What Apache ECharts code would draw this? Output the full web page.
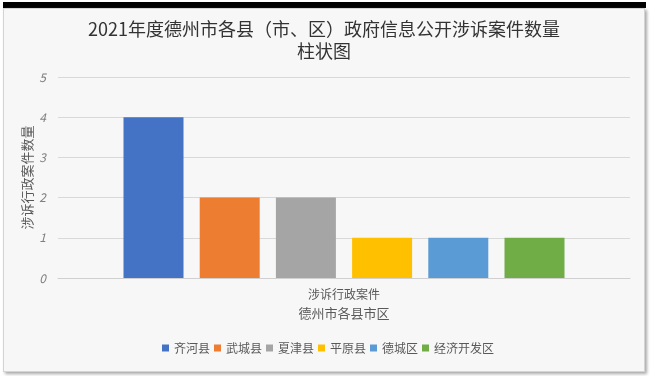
<!DOCTYPE html>
<html>
<head>
<meta charset="utf-8">
<script src="https://cdn.jsdelivr.net/npm/echarts@6/dist/echarts.min.js"></script>
<style>
  html, body { margin: 0; padding: 0; background: #fff; }
  #topbar { position: absolute; left: 3px; top: 2px; width: 643px; height: 6px; background: #000; }
  #card { position: absolute; left: 3px; top: 8px; width: 640px; height: 362px; background: #f8f7f8;
          border: 1px solid #d4d4d4; box-shadow: 2px 2px 3px #a8a8a8; }
  #main { position: absolute; left: 0; top: 0; width: 656px; height: 376px; }
</style>
</head>
<body>
<div id="topbar"></div>
<div id="card"></div>
<div id="main"></div>
<script>
const chartDom = document.getElementById('main');
const myChart = echarts.init(chartDom);

// 类目与各县市区案件数
let category = ['涉诉行政案件'];
let counties = ['齐河县', '武城县', '夏津县', '平原县', '德城区', '经济开发区'];
let caseNum = [4, 2, 2, 1, 1, 1];
let colors = ['#4472C4', '#ED7D31', '#A5A5A5', '#FFC000', '#5B9BD5', '#70AD47'];

const font = '"Noto Sans CJK SC", sans-serif';

let series = counties.map(function (name, i) {
    return {
        name: name,
        type: 'bar',
        barWidth: 60,
        barGap: '27%',
        itemStyle: { color: colors[i] },
        data: [caseNum[i]]
    };
});

let option = {
    backgroundColor: 'transparent',
    animation: false,
    title: {
        text: '2021年度德州市各县（市、区）政府信息公开涉诉案件数量\n柱状图',
        left: 319,
        top: 13,
        textAlign: 'center',
        textStyle: {
            fontFamily: font,
            fontSize: 18,
            fontWeight: 'normal',
            color: '#333333',
            lineHeight: 22
        }
    },
    legend: {
        data: counties,
        bottom: 17,
        left: 'center',
        itemWidth: 7,
        itemHeight: 7,
        itemGap: 4,
        icon: 'rect',
        textStyle: { fontFamily: font, fontSize: 12, color: '#595959' }
    },
    grid: {
        left: 58,
        right: 26,
        top: 77,
        bottom: 98
    },
    xAxis: {
        type: 'category',
        data: category,
        name: '德州市各县市区',
        nameLocation: 'middle',
        nameGap: 29,
        nameTextStyle: { fontFamily: font, fontSize: 13, color: '#595959' },
        axisLine: { lineStyle: { color: '#d0d0d0' } },
        axisTick: { show: false },
        axisLabel: { fontFamily: font, fontSize: 12, color: '#595959', margin: 10 }
    },
    yAxis: {
        type: 'value',
        min: 0,
        max: 5,
        interval: 1,
        name: '涉诉行政案件数量',
        nameLocation: 'middle',
        nameRotate: 90,
        nameGap: 24,
        nameMoveOverlap: false,
        nameTextStyle: { fontFamily: font, fontSize: 13, color: '#595959' },
        axisLine: { show: false },
        axisTick: { show: false },
        axisLabel: { fontFamily: font, fontSize: 12, fontStyle: 'italic', color: '#808080', margin: 12 },
        splitLine: { lineStyle: { color: '#d9d9d9' } }
    },
    series: series
};

myChart.setOption(option);
</script>
</body>
</html>
